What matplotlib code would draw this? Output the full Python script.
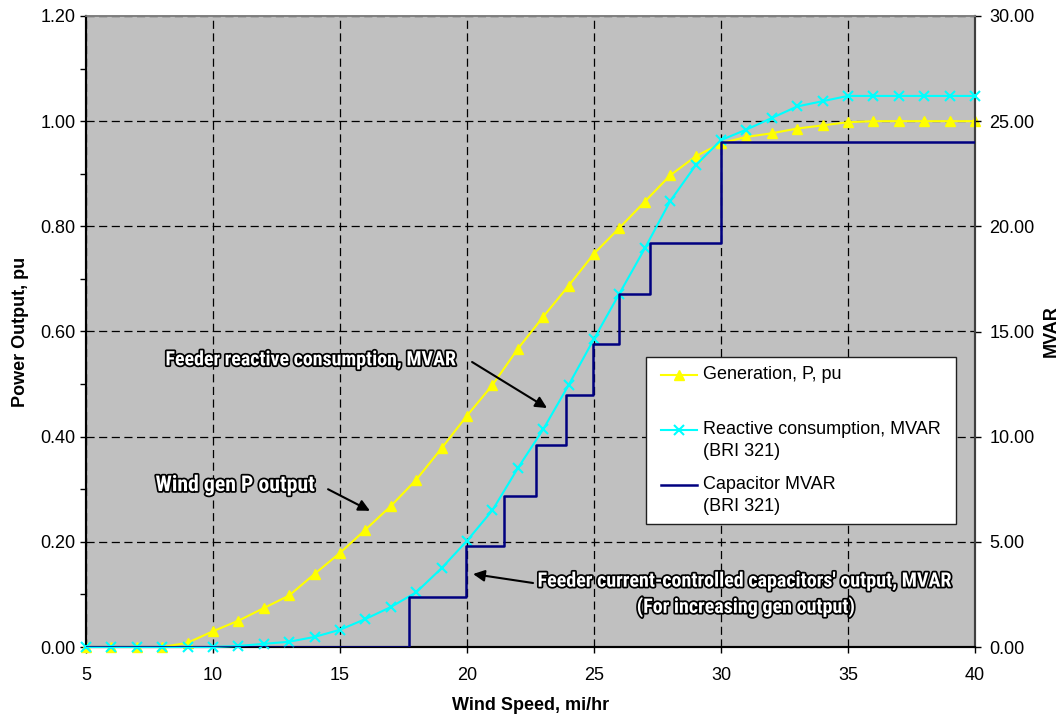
import matplotlib
matplotlib.use('Agg')
import numpy as np
import matplotlib.pyplot as plt
import matplotlib.patheffects as pe
from matplotlib import font_manager
from matplotlib.ticker import MultipleLocator, FormatStrFormatter

# ---------------- data ----------------
wind = list(range(5, 41))
gen_p = [0, 0, 0, 0, 0.008, 0.03, 0.05, 0.074, 0.098, 0.139, 0.179, 0.223,
         0.268, 0.318, 0.378, 0.44, 0.498, 0.567, 0.628, 0.687, 0.748, 0.797,
         0.847, 0.897, 0.933, 0.958, 0.970, 0.977, 0.986, 0.992, 0.998, 1.0,
         1.0, 1.0, 1.0, 1.0]
reactive = [0, 0, 0, 0, 0, 0, 0.05, 0.15, 0.25, 0.48, 0.82, 1.33, 1.9, 2.6,
            3.75, 5.05, 6.5, 8.5, 10.35, 12.45, 14.65, 16.8, 18.95, 21.2,
            22.9, 24.1, 24.6, 25.15, 25.7, 25.95, 26.2, 26.2, 26.2, 26.2,
            26.2, 26.2]
cap_x = [5, 17.7, 19.95, 21.45, 22.7, 23.9, 24.95, 26.0, 27.2, 30.0, 40]
cap_mvar = [0, 2.4, 4.8, 7.2, 9.6, 12.0, 14.4, 16.8, 19.2, 24.0, 24.0]

labels = ["Generation, P, pu\n ", "Reactive consumption, MVAR\n(BRI 321)",
          "Capacitor MVAR\n(BRI 321)"]

plt.rcParams['font.family'] = ['Liberation Sans', 'DejaVu Sans']


def pick_font():
    cands = [('Liberation Sans Narrow', 'normal', 14.5),
             ('Arial Narrow', 'normal', 14.5),
             ('Roboto Condensed', 'normal', 14.0),
             ('DejaVu Sans', 'condensed', 11.8)]
    for fam, stretch, size in cands:
        try:
            path = font_manager.findfont(
                font_manager.FontProperties(family=fam, stretch=stretch, weight='bold'),
                fallback_to_default=False)
        except Exception:
            continue
        if fam == 'DejaVu Sans' and 'Condensed' not in path:
            continue
        return fam, stretch, size
    return 'Liberation Sans', 'normal', 12.3


ann_family, ann_stretch, ann_size = pick_font()

fig = plt.figure(figsize=(10.64, 7.19), dpi=100)
ax = fig.add_axes([86/1064, 1-647/719, 889/1064, 631/719])
ax.set_facecolor('#C0C0C0')
ax2 = ax.twinx()

l1, = ax.plot(wind, gen_p, color='#FFFF00', marker='^', ms=7.5, mec='#FFFF00',
              lw=1.5, label=labels[0], clip_on=False, zorder=3)
l2, = ax2.plot(wind, reactive, color='#00FFFF', marker='x', ms=7.5, mew=1.5,
               lw=1.5, label=labels[1], clip_on=False, zorder=3)
l3, = ax2.plot(cap_x, cap_mvar, color='#000080', lw=1.8, drawstyle='steps-post',
               label=labels[2], zorder=4)

ax.set_xlim(5, 40)
ax.set_ylim(0, 1.2)
ax2.set_ylim(0, 30)

ax.xaxis.set_major_locator(MultipleLocator(5))
ax.yaxis.set_major_locator(MultipleLocator(0.2))
ax.yaxis.set_minor_locator(MultipleLocator(0.1))
ax.yaxis.set_major_formatter(FormatStrFormatter('%.2f'))
ax2.yaxis.set_major_locator(MultipleLocator(5))
ax2.yaxis.set_major_formatter(FormatStrFormatter('%.2f'))

ax.set_axisbelow(True)
ax.grid(True, which='major', color='black', linestyle=(0, (6.5, 3.6)), linewidth=0.9)

ax.tick_params(axis='x', which='major', direction='out', length=4.5, width=1,
               labelsize=13, pad=10)
ax.tick_params(axis='y', which='both', direction='out', length=4, width=1,
               labelsize=13, pad=3.5)
ax2.tick_params(axis='y', which='major', direction='out', length=4.5, width=1,
                labelsize=13, pad=6)

for a in (ax, ax2):
    for s in ('left', 'bottom'):
        a.spines[s].set_color('black')
        a.spines[s].set_linewidth(1.5)
    a.spines['right'].set_color('#404040')
    a.spines['right'].set_linewidth(1.5)
    a.spines['top'].set_color('#808080')
    a.spines['top'].set_linewidth(1.2)

ax.set_xlabel('Wind Speed, mi/hr', fontsize=13, fontweight='bold', labelpad=9)
ax.set_ylabel('Power Output, pu', fontsize=13, fontweight='bold', labelpad=8)
ax2.set_ylabel('MVAR', fontsize=13, fontweight='bold', labelpad=6)

# legend
leg = ax2.legend([l1, l2, l3], labels, loc='upper left',
                 bbox_to_anchor=(0.630, 0.198, 0.3486, 0.2616), mode='expand',
                 fontsize=13, frameon=True, fancybox=False, framealpha=1,
                 edgecolor='#202020', borderpad=0.5, labelspacing=0.85,
                 handlelength=2.0, handletextpad=0.3, borderaxespad=0,
                 numpoints=1)
leg.get_frame().set_linewidth(1.0)
for t in leg.get_texts():
    t.set_linespacing(1.42)
dy = 7.7
dx = 4.3
for h in leg.legend_handles:
    h.set_ydata(np.asarray(h.get_ydata()) + dy)
    h.set_xdata(np.asarray(h.get_xdata()) + dx)
try:
    for col in leg._legend_handle_box.get_children():
        for item in col.get_children():
            item.get_children()[0].width += dx
except Exception:
    pass

# annotations
fx = [pe.withStroke(linewidth=2.5, foreground='black')]
tkw = dict(color='white', fontweight='bold', family=[ann_family],
           fontstretch=ann_stretch, ha='center', va='center', path_effects=fx, zorder=6)
akw = dict(arrowstyle='-|>', color='black', lw=1.5, mutation_scale=17,
           shrinkA=0, shrinkB=0)

ax.text(13.86, 0.546, 'Feeder reactive consumption, MVAR', fontsize=ann_size * 1.025, **tkw)
ax.annotate('', xy=(23.15, 0.4545), xytext=(20.20, 0.542), arrowprops=akw, zorder=6)

ax.text(10.87, 0.308, 'Wind gen P output', fontsize=ann_size * 1.12, **tkw)
ax.annotate('', xy=(16.18, 0.259), xytext=(14.53, 0.300), arrowprops=akw, zorder=6)

ax.text(30.94, 0.125, "Feeder current-controlled capacitors' output, MVAR",
        fontsize=ann_size * 1.03, **tkw)
ax.text(30.98, 0.076, '(For increasing gen output)', fontsize=ann_size * 1.03, **tkw)
ax.annotate('', xy=(20.24, 0.1388), xytext=(22.60, 0.1217), arrowprops=akw, zorder=6)

fig.savefig('out.png', dpi=100)
